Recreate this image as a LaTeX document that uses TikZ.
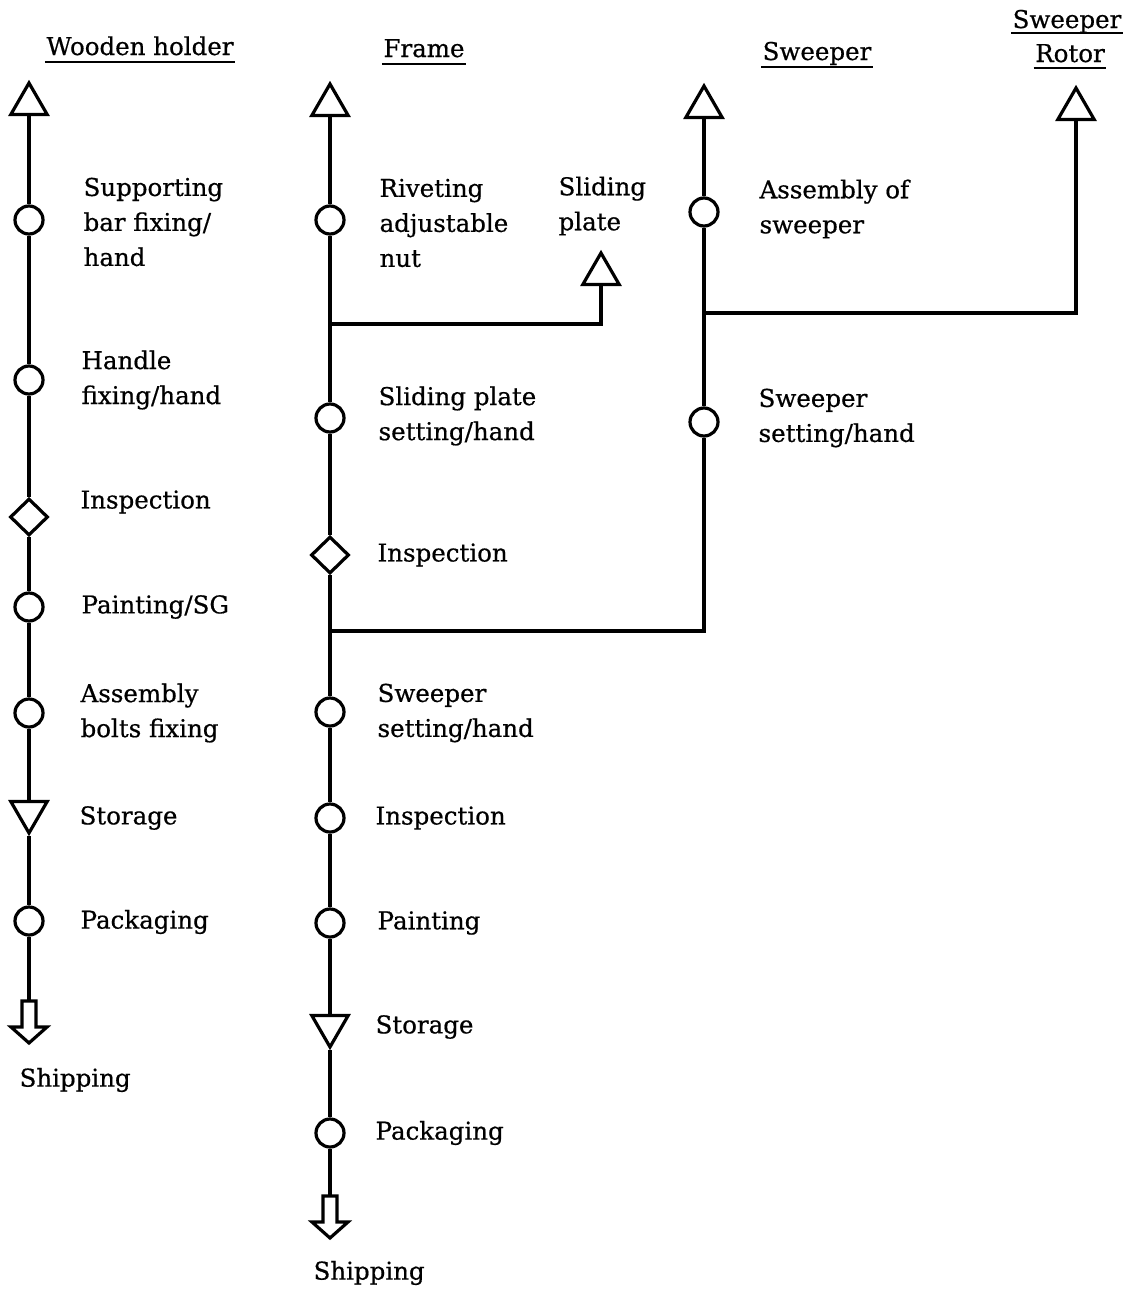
\documentclass[tikz,border=0pt]{standalone}
\usepackage{fontspec}
\setmainfont{DejaVu Serif}[FakeBold=0.6]
\usetikzlibrary{shapes.geometric}
\begin{document}
\begin{tikzpicture}[x=1pt,y=-1pt,
  line width=3.2pt,
  op/.style={circle,draw,fill=white,minimum size=28pt,inner sep=0pt},
  srcbox/.style={regular polygon,regular polygon sides=3,draw,fill=white,minimum size=42pt,inner sep=0pt},
  storbox/.style={srcbox,shape border rotate=180},
  inspbox/.style={diamond,draw,fill=white,minimum width=38pt,minimum height=37pt,inner sep=0pt},
  lbl/.style={anchor=west,align=left,inner sep=0pt,font=\fontsize{24.5}{35}\selectfont},
  hd/.style={anchor=base,inner sep=0pt,font=\fontsize{24.5}{35}\selectfont},
  ul/.style={line width=2.2pt},
  shiparrow/.pic={\draw[line join=miter] (-7,0) -- (-7,26) -- (-18,26) -- (0,42) -- (18,26) -- (7,26) -- (7,0) -- cycle;}
]
\useasboundingbox (0,0) rectangle (1140,1293);

% ---------- headers ----------
\node[hd] (hw) at (140,55) {Wooden holder};
\node[hd] (hf) at (424,57) {Frame};
\node[hd] (hs) at (817,60) {Sweeper};
\node[hd] (hr1) at (1067,28) {Sweeper};
\node[hd] (hr2) at (1070,62) {Rotor};
\draw[ul] ([yshift=-7pt]hw.base west) -- ([yshift=-7pt]hw.base east);
\draw[ul] ([yshift=-7pt]hf.base west) -- ([yshift=-7pt]hf.base east);
\draw[ul] ([yshift=-7pt]hs.base west) -- ([yshift=-7pt]hs.base east);
\draw[ul] ([yshift=-5pt]hr1.base west) -- ([yshift=-5pt]hr1.base east);
\draw[ul] ([yshift=-6pt]hr2.base west) -- ([yshift=-6pt]hr2.base east);

% ---------- Wooden holder ----------
\node[srcbox] (wt) at (29,104) {};
\node[op] (wc1) at (29,220) {};
\node[op] (wc2) at (29,380) {};
\node[inspbox] (wd) at (29,517) {};
\node[op] (wc3) at (29,607) {};
\node[op] (wc4) at (29,713) {};
\node[storbox] (ws) at (29,812) {};
\node[op] (wc5) at (29,921) {};
\coordinate (wship) at (29,1001);
\draw (wt) -- (wc1) -- (wc2) -- (wd) -- (wc3) -- (wc4) -- (ws) -- (wc5) -- (wship);
\pic at (wship) {shiparrow};

\node[lbl] (lw1) at (82,222) {Supporting\\bar fixing/\\hand};
\node[lbl] (lw2) at (80,380) {Handle\\fixing/hand};
\node[lbl] (lw3) at (79,502) {Inspection};
\node[lbl] (lw4) at (80,607) {Painting/SG};
\node[lbl] (lw5) at (79,713) {Assembly\\bolts fixing};
\node[lbl] (lw6) at (78,818) {Storage};
\node[lbl] (lw7) at (79,922) {Packaging};
\node[lbl] (lw8) at (18,1080) {Shipping};

% ---------- Frame ----------
\node[srcbox] (ft) at (330,105) {};
\node[op] (fc1) at (330,220) {};
\coordinate (j1) at (330,324);
\node[srcbox] (sp) at (601,274) {};
\node[op] (fc2) at (330,418) {};
\node[inspbox] (fd) at (330,555) {};
\coordinate (j2) at (330,631);
\node[op] (fc3) at (330,712) {};
\node[op] (fc4) at (330,818) {};
\node[op] (fc5) at (330,923) {};
\node[storbox] (fs) at (330,1026) {};
\node[op] (fc6) at (330,1133) {};
\coordinate (fship) at (330,1196);
\draw (ft) -- (fc1) -- (j1) -- (fc2) -- (fd) -- (j2) -- (fc3) -- (fc4) -- (fc5) -- (fs) -- (fc6) -- (fship);
\draw (j1) -| (sp);
\pic at (fship) {shiparrow};

\node[lbl] (lf1) at (378,223) {Riveting\\adjustable\\nut};
\node[lbl] (lf2) at (557,206) {Sliding\\plate};
\node[lbl] (lf3) at (377,416) {Sliding plate\\setting/hand};
\node[lbl] (lf4) at (376,555) {Inspection};
\node[lbl] (lf5) at (376,713) {Sweeper\\setting/hand};
\node[lbl] (lf6) at (374,818) {Inspection};
\node[lbl] (lf7) at (376,923) {Painting};
\node[lbl] (lf8) at (374,1027) {Storage};
\node[lbl] (lf9) at (374,1133) {Packaging};
\node[lbl] (lf10) at (312,1273) {Shipping};

% ---------- Sweeper ----------
\node[srcbox] (st) at (704,107) {};
\node[op] (sc1) at (704,212) {};
\coordinate (j3) at (704,313);
\node[op] (sc2) at (704,422) {};
\coordinate (j4) at (704,631);
\draw (st) -- (sc1) -- (j3) -- (sc2) -- (j4) -- (j2);

\node[lbl] (ls1) at (758,209) {Assembly of\\sweeper};
\node[lbl] (ls2) at (757,418) {Sweeper\\setting/hand};

% ---------- Sweeper Rotor ----------
\node[srcbox] (rt) at (1076,109) {};
\draw (j3) -| (rt);
\end{tikzpicture}
\end{document}
